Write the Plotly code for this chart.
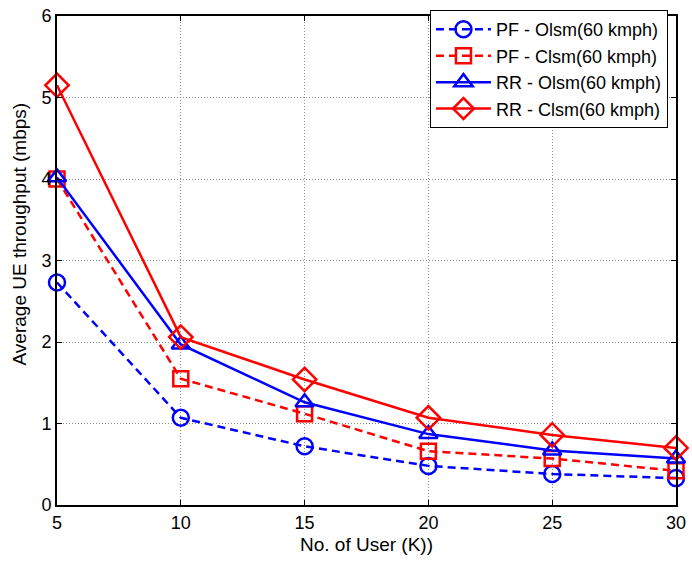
import plotly.graph_objects as go

users = [5, 10, 15, 20, 25, 30]
pf_olsm = [2.73, 1.07, 0.72, 0.48, 0.38, 0.33]
pf_clsm = [4.00, 1.55, 1.12, 0.66, 0.57, 0.42]
rr_olsm = [4.02, 1.97, 1.26, 0.87, 0.67, 0.57]
rr_clsm = [5.15, 2.06, 1.54, 1.07, 0.86, 0.70]
x_ticks = [5, 10, 15, 20, 25, 30]
y_ticks = [0, 1, 2, 3, 4, 5, 6]

FONT = "Liberation Sans, Arial, sans-serif"

series = [
    ("PF - Olsm(60 kmph)", pf_olsm, "#0000ff", "8px,5px", "circle-open", 16),
    ("PF - Clsm(60 kmph)", pf_clsm, "#ff0000", "8px,5px", "square-open", 15),
    ("RR - Olsm(60 kmph)", rr_olsm, "#0000ff", "solid", "triangle-up-open", 16),
    ("RR - Clsm(60 kmph)", rr_clsm, "#ff0000", "solid", "diamond-open", 18),
]

fig = go.Figure()
for name, ys, col, dash, sym, sz in series:
    fig.add_trace(go.Scatter(
        x=users, y=ys, name=name, mode="lines+markers",
        line=dict(color=col, width=2.5, dash=dash),
        marker=dict(symbol=sym, size=sz, color=col, line=dict(width=2.5, color=col)),
        cliponaxis=False,
    ))

axis_common = dict(
    showgrid=True, gridcolor="#8c8c8c", griddash="1px,2px", gridwidth=1,
    showline=True, linecolor="black", linewidth=2, mirror="ticks",
    ticks="inside", ticklen=5, tickcolor="black", tickwidth=1,
    tickfont=dict(family=FONT, size=18, color="black"),
    ticklabeloverflow="allow",
    zeroline=False,
)
fig.update_xaxes(range=[5, 30], tickvals=x_ticks,
                 title=dict(text="No. of User (K))", font=dict(family=FONT, size=19, color="black"), standoff=6),
                 **axis_common)
fig.update_yaxes(range=[0, 6], tickvals=y_ticks, **axis_common)

fig.add_annotation(
    text="Average UE throughput (mbps)", textangle=-90,
    xref="paper", yref="paper", x=-0.06, y=0.555,
    xanchor="center", yanchor="middle", showarrow=False,
    font=dict(family=FONT, size=19, color="black"),
)

fig.update_layout(
    width=692, height=562,
    margin=dict(l=57, r=6, t=10, b=57),
    plot_bgcolor="white", paper_bgcolor="white",
    font=dict(family=FONT, size=18, color="black"),
    legend=dict(x=0.987, y=1.012, xanchor="right", yanchor="top",
                bgcolor="white", bordercolor="black", borderwidth=1,
                font=dict(family=FONT, size=18, color="black"),
                itemwidth=55, tracegroupgap=0),
    showlegend=True,
)

fig.write_html("out.html")
